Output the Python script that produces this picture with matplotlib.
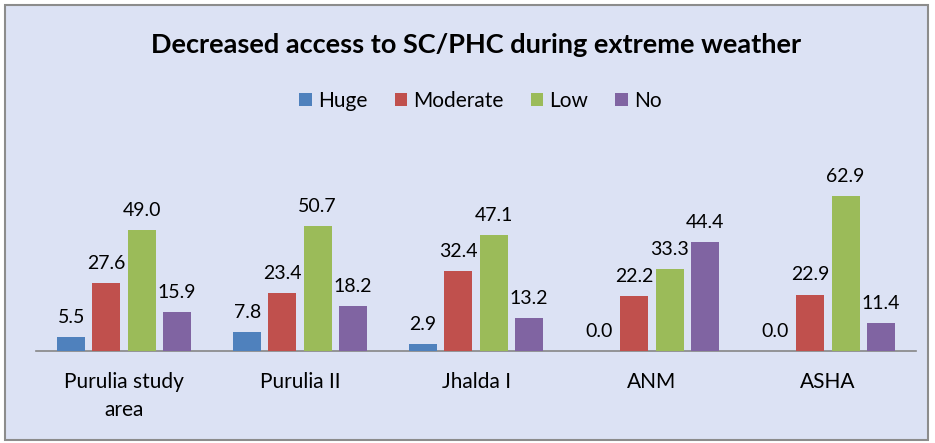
import numpy as np
import matplotlib
matplotlib.use("Agg")
import matplotlib.pyplot as plt
from matplotlib.patches import Rectangle

categories = ["Purulia study\narea", "Purulia II", "Jhalda I", "ANM", "ASHA"]
series_names = ["Huge", "Moderate", "Low", "No"]
huge = [5.5, 7.8, 2.9, 0.0, 0.0]
moderate = [27.6, 23.4, 32.4, 22.2, 22.9]
low = [49.0, 50.7, 47.1, 33.3, 62.9]
no = [15.9, 18.2, 13.2, 44.4, 11.4]
colors = ["#4F81BD", "#C0504D", "#9BBB59", "#8064A2"]

plt.rcParams['font.family'] = ['Lato', 'DejaVu Sans']

fig = plt.figure(figsize=(9.35, 4.43), dpi=100)
fig.patch.set_facecolor("white")
# chart area background + border
fig.add_artist(Rectangle((5/935, 3/443), 923/935, 435/443, transform=fig.transFigure,
                         facecolor="#dce2f4", edgecolor="#8c8c8c", linewidth=1.5, zorder=0))

ax = fig.add_axes([36/935, 1-351/443, 880/935, 197/443])
ax.set_facecolor("none")

x = np.arange(len(categories))
step, width = 0.2, 0.16
for i, (name, vals) in enumerate(zip(series_names, [huge, moderate, low, no])):
    xs = x + (i - 1.5) * step
    ax.bar(xs, vals, width, color=colors[i], label=name, zorder=3)
    for xv, v in zip(xs, vals):
        ax.annotate(f"{v:.1f}", (xv, v), xytext=(0, 8), textcoords="offset points",
                    ha="center", va="bottom", fontsize=14, color="black")

ax.set_xlim(-0.5, 4.5)
ax.set_ylim(0, 80)
ax.set_yticks([])
ax.set_xticks(x)
ax.set_xticklabels(categories, fontsize=15, linespacing=1.5)
ax.tick_params(axis="x", length=0, pad=15)
for s in ["top", "right", "left"]:
    ax.spines[s].set_visible(False)
ax.spines["bottom"].set_color("#868686")
ax.spines["bottom"].set_linewidth(1.2)

fig.text(0.509, 1-45/443, "Decreased access to SC/PHC during extreme weather",
         ha="center", va="center", fontsize=19.5, fontweight="bold")

fig.legend(loc="center", bbox_to_anchor=(0.514, 1-101/443), ncol=4, frameon=False,
           fontsize=15, handlelength=0.6, handleheight=0.6, handletextpad=0.3,
           columnspacing=1.3)

fig.savefig("out.png", dpi=100)
